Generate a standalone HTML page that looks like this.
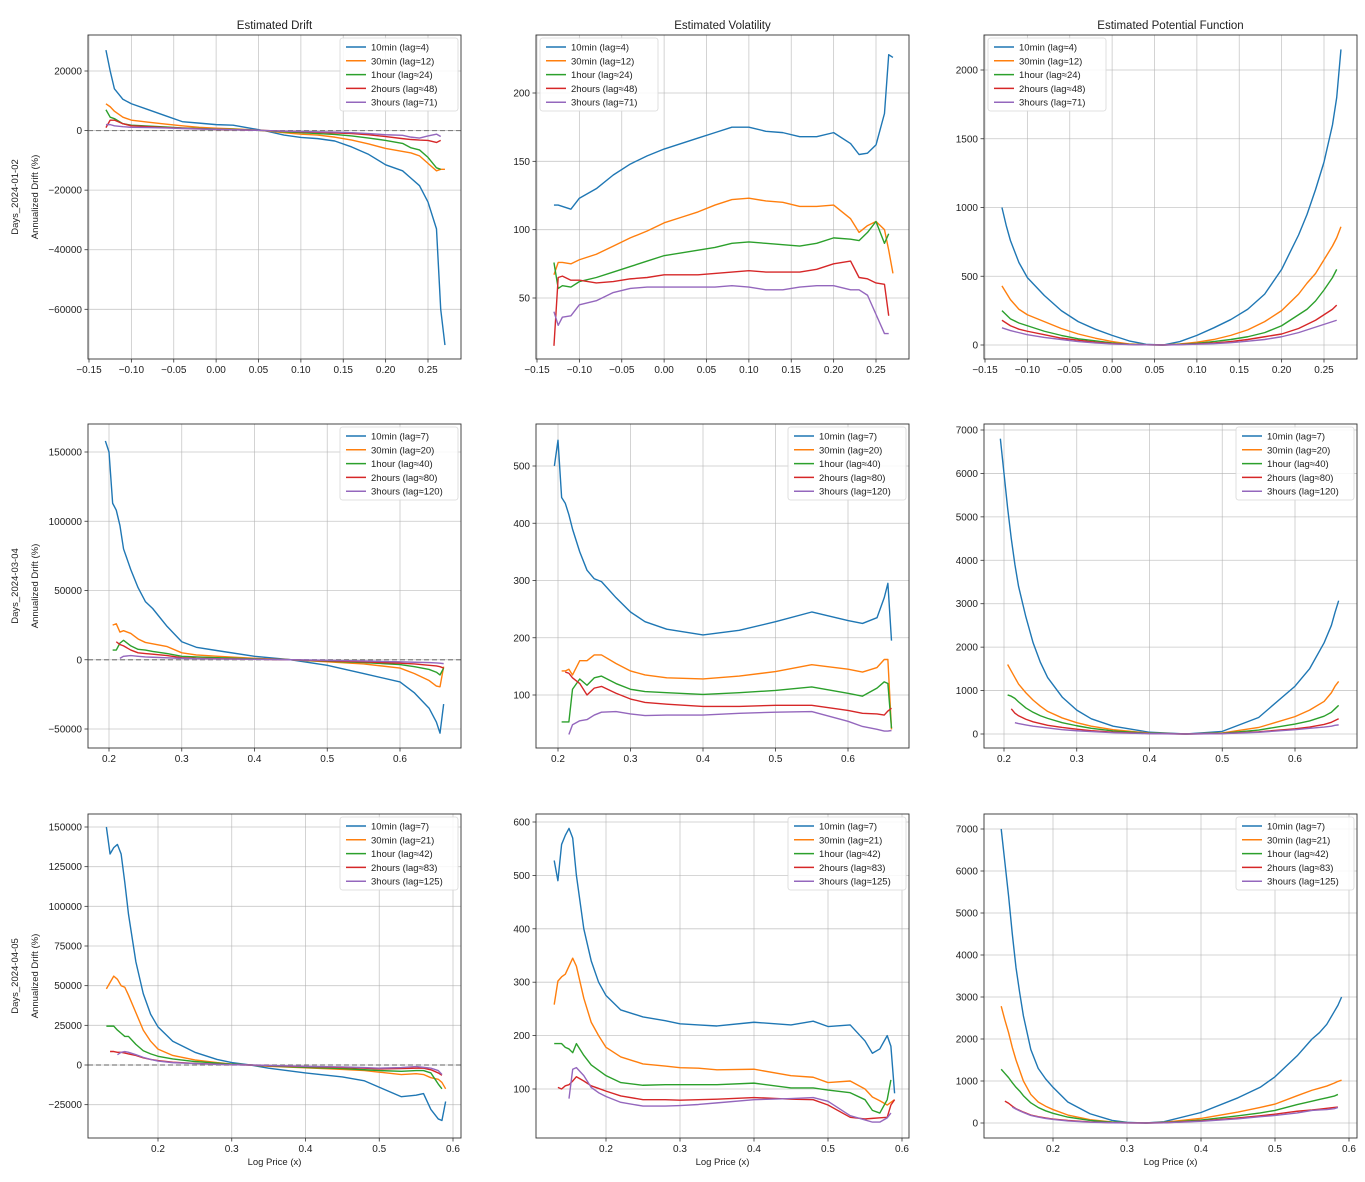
<!DOCTYPE html>
<html><head><meta charset="utf-8">
<style>
html,body{margin:0;padding:0;background:#fff;}
svg{display:block;font-family:"Liberation Sans","DejaVu Sans",sans-serif;}
</style></head>
<body>
<svg id="fig" width="1365" height="1182" viewBox="0 0 1365 1182" xmlns="http://www.w3.org/2000/svg"></svg>
<script>
// ---------- data ----------
const seriesNames = ["10min","30min","1hour","2hours","3hours"];
const lags_r1 = [4,12,24,48,71];
const lags_r2 = [7,20,40,80,120];
const lags_r3 = [7,21,42,83,125];

const x_r1 = [-0.13,-0.125,-0.12,-0.11,-0.10,-0.08,-0.06,-0.04,-0.02,0,0.02,0.04,0.06,0.08,0.10,0.12,0.14,0.16,0.18,0.20,0.22,0.23,0.24,0.25,0.26,0.265,0.27];
const drift_r1_10min = [27000,20000,14000,10500,9000,7000,5000,3000,2500,2000,1800,800,-200,-1500,-2300,-2700,-3500,-5500,-8000,-11500,-13500,-16000,-18500,-24000,-33000,-60000,-72000];
const drift_r1_30min = [9000,8000,6500,4500,3500,2800,2200,1600,1100,800,600,300,-100,-700,-1200,-1500,-2200,-3200,-4500,-6000,-7000,-7500,-8500,-11000,-13500,-13000,-13000];
const drift_r1_1hour = [7000,4500,4000,2300,1800,1500,1200,900,700,500,400,200,-50,-400,-700,-1000,-1300,-1800,-2500,-3300,-4300,-5800,-6500,-9000,-12500,-13000,null];
const drift_r1_2hours = [1000,3500,3500,2300,1600,1300,1000,800,600,400,300,150,0,-200,-400,-600,-800,-1000,-1400,-2000,-2700,-3000,-3200,-3300,-4000,-3300,null];
const drift_r1_3hours = [2000,2000,1600,1300,1100,1000,900,700,500,400,300,150,0,-200,-300,-400,-500,-700,-1000,-1400,-1600,-2200,-2500,-1800,-1200,-2000,null];
const vol_r1_10min = [118,118,117,115,123,130,140,148,154,159,163,167,171,175,175,172,171,168,168,171,163,155,156,162,185,228,226];
const vol_r1_30min = [67,76,76,75,78,82,88,94,99,105,109,113,118,122,123,121,120,117,117,118,108,98,103,106,100,85,68];
const vol_r1_1hour = [76,57,59,58,62,65,69,73,77,81,83,85,87,90,91,90,89,88,90,94,93,92,98,106,90,97,null];
const vol_r1_2hours = [15,65,66,63,63,61,62,64,65,67,67,67,68,69,70,69,69,69,71,75,77,65,64,61,60,37,null];
const vol_r1_3hours = [40,30,36,37,45,48,54,57,58,58,58,58,58,59,58,56,56,58,59,59,56,56,52,38,24,24,null];
const pot_r1_10min = [1000,870,760,600,490,360,250,170,115,70,30,5,0,25,70,125,185,260,370,550,800,950,1130,1330,1600,1800,2150];
const pot_r1_30min = [430,380,330,260,220,170,120,80,50,25,8,2,0,8,20,40,70,110,170,250,370,450,520,620,720,780,860];
const pot_r1_1hour = [250,220,190,160,140,100,70,45,30,15,5,1,0,5,12,25,40,60,90,140,220,260,320,400,490,550,null];
const pot_r1_2hours = [180,160,140,115,100,75,50,35,20,10,4,1,0,3,8,15,25,40,60,80,120,150,180,220,260,290,null];
const pot_r1_3hours = [125,115,105,90,75,55,40,25,15,8,3,1,0,2,6,10,17,28,40,60,90,110,130,150,170,180,null];

const x_r2 = [0.195,0.2,0.205,0.21,0.215,0.22,0.23,0.24,0.25,0.26,0.28,0.30,0.32,0.35,0.40,0.45,0.50,0.55,0.60,0.62,0.64,0.65,0.655,0.66];
const drift_r2_10min = [158000,150000,113000,108000,97000,80000,65000,52000,42000,37000,24000,13000,9000,6500,2500,0,-4000,-10000,-16000,-24000,-35000,-45000,-53000,-32000];
const drift_r2_30min = [null,null,25000,26000,20000,21000,19000,15000,12500,11500,9500,5000,3500,2500,1000,0,-1500,-3000,-6000,-10000,-15000,-19000,-19500,-5000];
const drift_r2_1hour = [null,null,7000,7000,12000,14000,10000,7500,7000,6000,4500,2500,2000,1500,700,0,-1000,-2000,-3500,-5000,-7000,-9000,-11000,-6000];
const drift_r2_2hours = [null,null,null,13000,11000,10000,7000,5000,4500,4000,3000,1500,1000,800,400,0,-800,-1500,-2500,-3000,-4000,-4500,-5000,-6000];
const drift_r2_3hours = [null,null,null,null,1000,2500,3000,2500,2000,1800,1400,1000,800,600,300,0,-400,-900,-1500,-1800,-2000,-2300,-2500,-2800];
const vol_r2_10min = [500,545,445,435,415,390,350,318,303,298,270,245,228,215,205,213,228,245,230,225,235,270,295,195];
const vol_r2_30min = [null,null,142,142,145,135,160,160,170,170,155,142,135,130,128,133,141,153,145,140,148,162,162,40];
const vol_r2_1hour = [null,null,53,53,53,110,128,117,130,133,120,110,106,104,101,104,108,114,103,98,112,123,120,42];
const vol_r2_2hours = [null,null,null,140,138,130,120,100,112,115,103,93,87,84,80,80,82,82,73,68,67,65,72,77];
const vol_r2_3hours = [null,null,null,null,31,48,55,57,65,70,71,67,64,65,65,68,70,71,54,45,40,37,37,38];
const pot_r2_10min = [6800,6000,5200,4500,3900,3400,2700,2100,1650,1300,850,550,350,180,40,0,60,380,1100,1500,2100,2500,2800,3070];
const pot_r2_30min = [null,null,1600,1450,1300,1150,950,780,640,520,370,260,180,100,20,0,25,150,400,550,750,950,1100,1210];
const pot_r2_1hour = [null,null,900,870,820,740,600,500,420,360,260,190,130,70,15,0,15,90,230,300,410,500,580,660];
const pot_r2_2hours = [null,null,null,580,480,420,340,280,240,200,150,110,75,40,10,0,10,50,120,160,220,270,310,350];
const pot_r2_3hours = [null,null,null,null,260,240,210,180,160,140,100,75,55,30,8,0,8,40,100,130,160,180,200,210];

const x_r3 = [0.13,0.135,0.14,0.145,0.15,0.155,0.16,0.17,0.18,0.19,0.20,0.22,0.25,0.28,0.30,0.325,0.35,0.40,0.45,0.48,0.50,0.53,0.55,0.56,0.57,0.58,0.585,0.59];
const drift_r3_10min = [150000,133000,137000,139000,133000,115000,95000,65000,45000,32000,24000,15000,8000,3500,1500,0,-2000,-5000,-7500,-10000,-14000,-20000,-19000,-18000,-28000,-34000,-35000,-23000];
const drift_r3_30min = [48000,52000,56000,54000,50000,49000,44000,33000,22000,15000,10000,6000,3200,1500,600,0,-800,-1800,-2800,-3500,-4500,-6000,-5500,-6000,-8000,-9000,-11000,-15000];
const drift_r3_1hour = [24500,24500,24500,22000,20000,18000,18000,13000,9000,7000,5500,3800,2200,1200,500,0,-600,-1500,-2200,-3000,-3500,-4000,-3500,-3500,-5000,-12000,-15000,null];
const drift_r3_2hours = [null,8500,8500,8000,8000,7500,7000,6000,4500,3500,2800,1800,1000,500,200,0,-400,-1000,-1500,-2000,-2500,-2200,-2000,-2000,-3000,-5000,-6500,null];
const drift_r3_3hours = [null,null,null,6500,8000,8500,8000,6500,4800,3500,2500,1500,900,400,200,0,-300,-800,-1200,-1600,-2000,-1600,-1000,-1500,-2000,-3500,-6000,null];
const vol_r3_10min = [528,490,558,575,588,570,500,400,340,300,275,248,235,228,222,220,218,225,220,227,217,220,190,167,175,200,180,92];
const vol_r3_30min = [258,302,310,315,330,345,330,270,225,200,178,160,147,143,140,139,136,137,125,122,112,115,100,85,78,70,75,80];
const vol_r3_1hour = [185,185,185,178,175,168,185,163,145,135,125,112,107,108,108,108,108,111,102,102,98,93,80,60,55,80,117,null];
const vol_r3_2hours = [null,103,100,106,108,115,123,115,106,101,96,87,80,80,79,80,81,84,81,80,70,47,44,45,46,47,70,80];
const vol_r3_3hours = [null,null,null,null,82,137,140,125,103,93,86,75,68,68,69,71,74,80,82,84,77,50,42,38,38,46,55,null];
const pot_r3_10min = [7000,6200,5400,4500,3700,3100,2550,1750,1300,1050,850,500,220,60,15,0,30,250,600,850,1100,1600,2000,2150,2350,2650,2800,3000];
const pot_r3_30min = [2780,2450,2150,1800,1500,1250,1000,680,500,400,320,190,80,25,8,0,15,110,260,370,450,650,780,830,880,950,990,1020];
const pot_r3_1hour = [1280,1180,1080,960,850,760,650,480,370,290,230,140,60,18,6,0,10,70,170,240,300,440,520,560,600,640,680,null];
const pot_r3_2hours = [null,520,470,400,340,300,260,190,150,120,95,60,25,8,3,0,6,50,120,170,210,280,310,330,350,370,380,null];
const pot_r3_3hours = [null,null,null,380,330,290,250,180,140,110,85,50,20,6,2,0,5,40,100,150,180,240,300,310,320,340,370,null];

const xt_r1 = [-0.15,-0.10,-0.05,0.00,0.05,0.10,0.15,0.20,0.25];
const xt_r23 = [0.2,0.3,0.4,0.5,0.6];
const yt_d1 = [-60000,-40000,-20000,0,20000];
const yt_v1 = [50,100,150,200];
const yt_p1 = [0,500,1000,1500,2000];
const yt_d2 = [-50000,0,50000,100000,150000];
const yt_v2 = [100,200,300,400,500];
const yt_p2 = [0,1000,2000,3000,4000,5000,6000,7000];
const yt_d3 = [-25000,0,25000,50000,75000,100000,125000,150000];
const yt_v3 = [100,200,300,400,500,600];
const yt_p3 = [0,1000,2000,3000,4000,5000,6000,7000];

const colors = ["#1f77b4","#ff7f0e","#2ca02c","#d62728","#9467bd"];
const NS = "http://www.w3.org/2000/svg";
const svg = document.getElementById("fig");

function mk(tag, attrs, parent){
  const e = document.createElementNS(NS, tag);
  for (const k in attrs) e.setAttribute(k, attrs[k]);
  (parent||svg).appendChild(e);
  return e;
}
function fmtX(v, dec){ const s = Math.abs(v).toFixed(dec); return (v < -1e-9 ? "\u2212" : "") + s; }
function fmtY(v){ return (v < 0 ? "\u2212" : "") + Math.abs(v); }

const panels = [
 {name:"drift-2024-01-02", row:0, box:[88,35,461,359], xr:[-0.15,89,0.25,428], yr:[20000,71,-60000,309.3], x:x_r1, xt:xt_r1, xdec:2, yt:yt_d1, lags:lags_r1, title:"Estimated Drift", zero:true,
  ys:[drift_r1_10min,drift_r1_30min,drift_r1_1hour,drift_r1_2hours,drift_r1_3hours], leg:"right", day:"Days_2024-01-02"},
 {name:"volatility-2024-01-02", row:0, box:[536,35,909,359], xr:[-0.15,537,0.25,876], yr:[200,93,50,298], x:x_r1, xt:xt_r1, xdec:2, yt:yt_v1, lags:lags_r1, title:"Estimated Volatility",
  ys:[vol_r1_10min,vol_r1_30min,vol_r1_1hour,vol_r1_2hours,vol_r1_3hours], leg:"left"},
 {name:"potential-2024-01-02", row:0, box:[984,35,1357,359], xr:[-0.15,985,0.25,1324], yr:[2000,70,0,345], x:x_r1, xt:xt_r1, xdec:2, yt:yt_p1, lags:lags_r1, title:"Estimated Potential Function",
  ys:[pot_r1_10min,pot_r1_30min,pot_r1_1hour,pot_r1_2hours,pot_r1_3hours], leg:"left"},
 {name:"drift-2024-03-04", row:1, box:[88,424,461,748], xr:[0.2,109,0.6,400], yr:[150000,452,-50000,729], x:x_r2, xt:xt_r23, xdec:1, yt:yt_d2, lags:lags_r2, zero:true,
  ys:[drift_r2_10min,drift_r2_30min,drift_r2_1hour,drift_r2_2hours,drift_r2_3hours], leg:"right", day:"Days_2024-03-04"},
 {name:"volatility-2024-03-04", row:1, box:[536,424,909,748], xr:[0.2,558,0.6,848], yr:[500,466,100,695], x:x_r2, xt:xt_r23, xdec:1, yt:yt_v2, lags:lags_r2,
  ys:[vol_r2_10min,vol_r2_30min,vol_r2_1hour,vol_r2_2hours,vol_r2_3hours], leg:"right"},
 {name:"potential-2024-03-04", row:1, box:[984,424,1357,748], xr:[0.2,1004,0.6,1295], yr:[7000,430,0,734], x:x_r2, xt:xt_r23, xdec:1, yt:yt_p2, lags:lags_r2,
  ys:[pot_r2_10min,pot_r2_30min,pot_r2_1hour,pot_r2_2hours,pot_r2_3hours], leg:"right"},
 {name:"drift-2024-04-05", row:2, box:[88,814,461,1138], xr:[0.2,158,0.6,453], yr:[150000,827,0,1065], x:x_r3, xt:xt_r23, xdec:1, yt:yt_d3, lags:lags_r3, zero:true,
  ys:[drift_r3_10min,drift_r3_30min,drift_r3_1hour,drift_r3_2hours,drift_r3_3hours], leg:"right", day:"Days_2024-04-05", xlabel:true},
 {name:"volatility-2024-04-05", row:2, box:[536,814,909,1138], xr:[0.2,606,0.6,902], yr:[600,822,100,1089], x:x_r3, xt:xt_r23, xdec:1, yt:yt_v3, lags:lags_r3,
  ys:[vol_r3_10min,vol_r3_30min,vol_r3_1hour,vol_r3_2hours,vol_r3_3hours], leg:"right", xlabel:true},
 {name:"potential-2024-04-05", row:2, box:[984,814,1357,1138], xr:[0.2,1053,0.6,1349], yr:[7000,829,0,1123], x:x_r3, xt:xt_r23, xdec:1, yt:yt_p3, lags:lags_r3,
  ys:[pot_r3_10min,pot_r3_30min,pot_r3_1hour,pot_r3_2hours,pot_r3_3hours], leg:"right", xlabel:true}
];

panels.forEach(p => {
  const [l,t,r,b] = p.box;
  const sx = v => p.xr[1] + (v - p.xr[0]) * (p.xr[3]-p.xr[1]) / (p.xr[2]-p.xr[0]);
  const sy = v => p.yr[1] + (v - p.yr[0]) * (p.yr[3]-p.yr[1]) / (p.yr[2]-p.yr[0]);
  const g = mk("g", {});
  
  

  // grid + ticks
  p.xt.forEach(v => {
    const x = sx(v);
    const gl = mk("line", {x1:x, x2:x, y1:t, y2:b, stroke:"#b0b0b0", "stroke-width":0.8, "stroke-opacity":0.7}, g);
    
    
    mk("line", {x1:x, x2:x, y1:b, y2:b+3.5, stroke:"#333", "stroke-width":0.8}, g);
    const tx = mk("text", {x:x, y:b+14, "font-size":10, "text-anchor":"middle", fill:"#222"}, g);
    tx.textContent = fmtX(v, p.xdec);
    
    
  });
  p.yt.forEach(v => {
    const y = sy(v);
    const gl = mk("line", {x1:l, x2:r, y1:y, y2:y, stroke:"#b0b0b0", "stroke-width":0.8, "stroke-opacity":0.7}, g);
    
    
    mk("line", {x1:l-3.5, x2:l, y1:y, y2:y, stroke:"#333", "stroke-width":0.8}, g);
    const tx = mk("text", {x:l-6, y:y+3.5, "font-size":10, "text-anchor":"end", fill:"#222"}, g);
    tx.textContent = fmtY(v);
    
    
  });

  if (p.zero) {
    const z = mk("line", {x1:l, x2:r, y1:sy(0), y2:sy(0), stroke:"#808080", "stroke-width":1.2, "stroke-dasharray":"5,3"}, g);
    
    
  }

  // clip
  const cid = "clip-" + p.name;
  const cp = mk("clipPath", {id:cid}, g);
  mk("rect", {x:l, y:t, width:r-l, height:b-t}, cp);

  p.ys.forEach((arr, si) => {
    let d = "", pen = false;
    arr.forEach((v, i) => {
      if (v === null || v === undefined) { pen = false; return; }
      d += (pen ? "L" : "M") + sx(p.x[i]).toFixed(2) + "," + sy(v).toFixed(2);
      pen = true;
    });
    const path = mk("path", {d:d, fill:"none", stroke:colors[si], "stroke-width":1.4, "stroke-linejoin":"round", "clip-path":"url(#"+cid+")"}, g);
    
    
  });

  const frame = mk("rect", {x:l, y:t, width:r-l, height:b-t, fill:"none", stroke:"#333", "stroke-width":0.9}, g);
  
  

  // legend
  const lw = 118, lh = 73;
  const lx = p.leg === "left" ? l + 4 : r - lw - 3;
  const ly = t + 3;
  const lg = mk("g", {}, g);
  
  
  mk("rect", {x:lx, y:ly, width:lw, height:lh, rx:2.5, fill:"#fff", "fill-opacity":0.85, stroke:"#d8d8d8", "stroke-width":0.8}, lg);
  seriesNames.forEach((n, si) => {
    const yy = ly + 9 + si * 13.8;
    const ent = mk("g", {}, lg);
    
    
    mk("line", {x1:lx+6, x2:lx+26, y1:yy, y2:yy, stroke:colors[si], "stroke-width":1.5}, ent);
    const tx = mk("text", {x:lx+31, y:yy+3.5, "font-size":9.5, fill:"#222"}, ent);
    tx.textContent = n + " (lag\u2248" + p.lags[si] + ")";
  });

  if (p.title) {
    const tt = mk("text", {x:(l+r)/2, y:t-6, "font-size":11.5, "text-anchor":"middle", fill:"#222"}, g);
    tt.textContent = p.title;
    
    
  }
  if (p.day) {
    const cy = (t+b)/2;
    const a = mk("text", {x:0, y:0, "font-size":9.5, "text-anchor":"middle", fill:"#222", transform:"translate(18,"+cy+") rotate(-90)"}, g);
    a.textContent = p.day;
    
    
    const a2 = mk("text", {x:0, y:0, "font-size":9.5, "text-anchor":"middle", fill:"#222", transform:"translate(38,"+cy+") rotate(-90)"}, g);
    a2.textContent = "Annualized Drift (%)";
    
    
  }
  if (p.xlabel) {
    const xl = mk("text", {x:(l+r)/2, y:b+27, "font-size":9.5, "text-anchor":"middle", fill:"#222"}, g);
    xl.textContent = "Log Price (x)";
    
    
  }
});
</script>
</body></html>
